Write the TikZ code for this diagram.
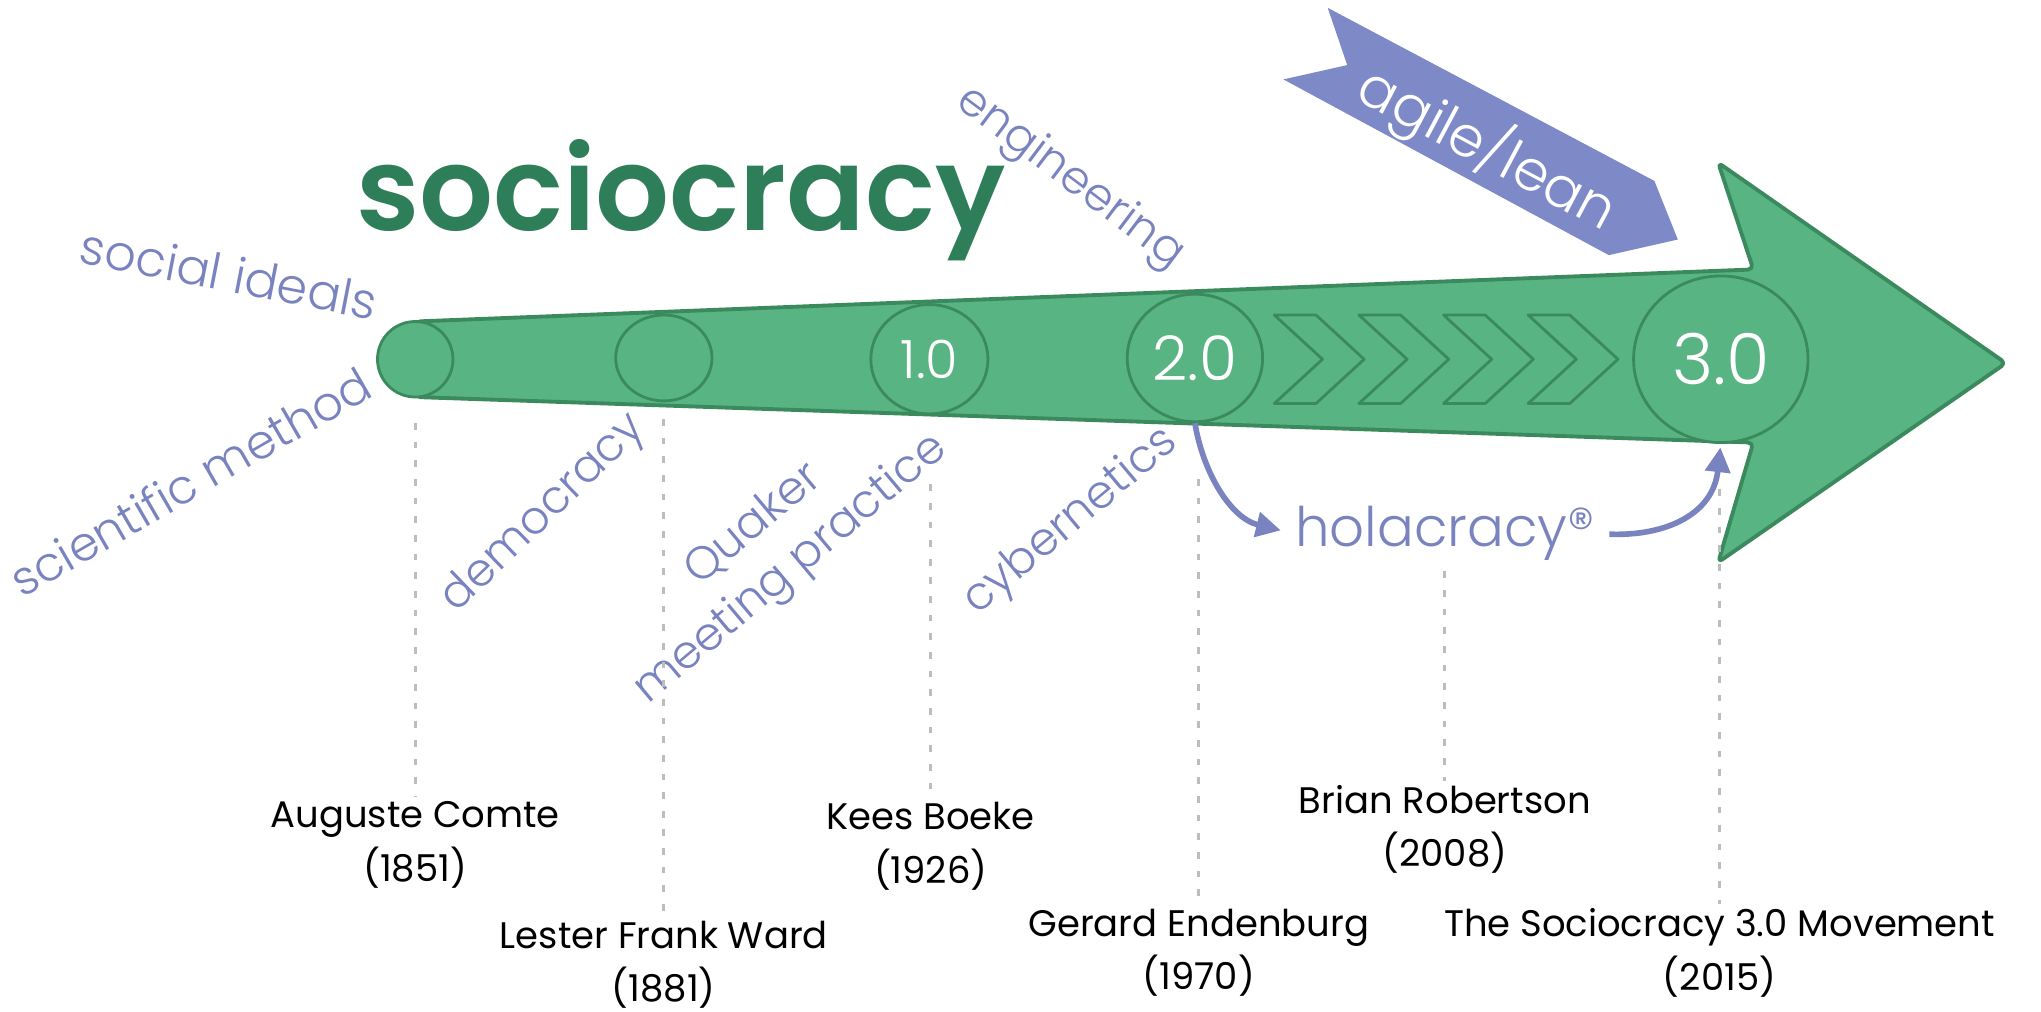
\documentclass[tikz,border=0pt]{standalone}
\usepackage{fontspec}
\setmainfont{Poppins}
\newfontfamily\thinfont{Poppins Light}
\newfontfamily\titlefont{Poppins SemiBold}
\usetikzlibrary{shapes.geometric,arrows.meta}
\newlength{\pxu}
\setlength{\pxu}{0.013cm}
\definecolor{arrowfill}{HTML}{58B482}
\definecolor{arrowline}{HTML}{3B8A5D}
\definecolor{titlegreen}{HTML}{2F7E5A}
\definecolor{idea}{HTML}{7883BF}
\definecolor{ribbon}{HTML}{7E8AC7}
\definecolor{guide}{HTML}{BDBDBD}

\begin{document}
\begin{tikzpicture}[x=\pxu, y=-\pxu]
        \tikzset{stage/.style={ellipse, draw=arrowline, fill=arrowfill, line width=0.8pt,
                               inner sep=0pt, text=white},
                 idealabel/.style={text=idea, font=\thinfont\fontsize{13}{14}\selectfont, inner sep=0pt},
                 person/.style={align=center, font=\fontsize{10.5}{15.2}\selectfont, inner sep=1pt},
                 guideline/.style={guide, line width=0.8pt, dash pattern=on 1.9pt off 3.4pt},
                 flow/.style={idea, line width=1.6pt, -{Triangle[length=7pt,width=7pt]}}}

        \useasboundingbox (0,0) rectangle (1568,777);
        \fill[white] (0,0) rectangle (1568,777);

        \draw[fill=arrowfill, draw=arrowline, line width=1.1pt, rounded corners=1.5pt, line join=round]
              (319,247) -- (1347,207) -- (1320,125) -- (1541,279)
              -- (1320,432) -- (1347,340) -- (319,305) -- cycle;

        \foreach \cx in {979,1044,1109,1174}
          \draw[arrowline, line width=0.8pt, line join=round]
                (\cx,242) -- ++(32,0) -- ++(37,34) -- ++(-37,34)
                -- ++(-32,0) -- ++(37,-34) -- cycle;

        \node[stage, minimum width=58\pxu, minimum height=58\pxu] (cap) at (319,276) {};
        \node[stage, minimum width=74\pxu, minimum height=66\pxu] (demo) at (510,275) {};
        \node[stage, minimum width=90\pxu, minimum height=84\pxu,
              font=\thinfont\fontsize{15}{15}\selectfont] (one) at (714,276) {1.0};
        \node[stage, minimum width=104\pxu, minimum height=98\pxu,
              font=\thinfont\fontsize{17.5}{17.5}\selectfont] (two) at (918,275) {2.0};
        \node[stage, minimum width=134\pxu, minimum height=128\pxu,
              font=\thinfont\fontsize{20}{20}\selectfont] (three) at (1322,276) {3.0};

        \node[font=\titlefont\fontsize{33}{33}\selectfont, text=titlegreen, anchor=base]
              (title) at (523,177) {sociocracy};

        \node[idealabel, rotate=-11, font=\thinfont\fontsize{14}{14}\selectfont]
              (ideals) at (176,210) {social ideals};
        \node[idealabel, rotate=30, font=\thinfont\fontsize{13.5}{14}\selectfont]
              (method) at (146,370) {scientific method};
        \node[idealabel, rotate=44] (democ) at (418,395) {democracy};
        \node[idealabel, rotate=40, align=center, font=\thinfont\fontsize{13}{16.5}\selectfont]
              (quaker) at (594,421) {Quaker\\meeting practice};
        \node[idealabel, rotate=40] (cyber) at (823,401) {cybernetics};
        \node[idealabel, rotate=-37] (engin) at (822,137) {engineering};

        \fill[ribbon] (1020,6) -- (1271,139) -- (1289,184) -- (1236,196)
                      -- (986,61) -- (1035,50) -- cycle;
        \node[text=white, rotate=-28, font=\thinfont\fontsize{16}{16}\selectfont]
              (agile) at (1143,114) {agile/lean};

        \node[text=idea, font=\thinfont\fontsize{15.5}{15.5}\selectfont, inner sep=0pt]
              (hola) at (1110,410) {holacracy®};
        \draw[flow, shorten >=4pt] (two.south)
              .. controls (924,362) and (945,398) .. (hola.west);
        \draw[flow, shorten <=4pt, shorten >=1pt] (hola.east)
              .. controls (1280,412) and (1316,395) .. (three.south);

        \node[person] (comte) at (319,649) {Auguste Comte\\(1851)};
        \node[person] (ward) at (510,741) {Lester Frank Ward\\(1881)};
        \node[person] (boeke) at (715,650) {Kees Boeke\\(1926)};
        \node[person] (endenburg) at (921,732) {Gerard Endenburg\\(1970)};
        \node[person] (robertson) at (1110,637) {Brian Robertson\\(2008)};
        \node[person] (movement) at (1321,732) {The Sociocracy 3.0 Movement\\(2015)};

        \foreach \n/\x/\y in {comte/319/325, ward/510/322, boeke/715/372,
                              endenburg/921/368, robertson/1110/439, movement/1321/376}
        {
          \coordinate (top-\n) at (\x,\y);
          \draw[guideline] (top-\n) -- (top-\n |- \n.north);
        }
\end{tikzpicture}
\end{document}
